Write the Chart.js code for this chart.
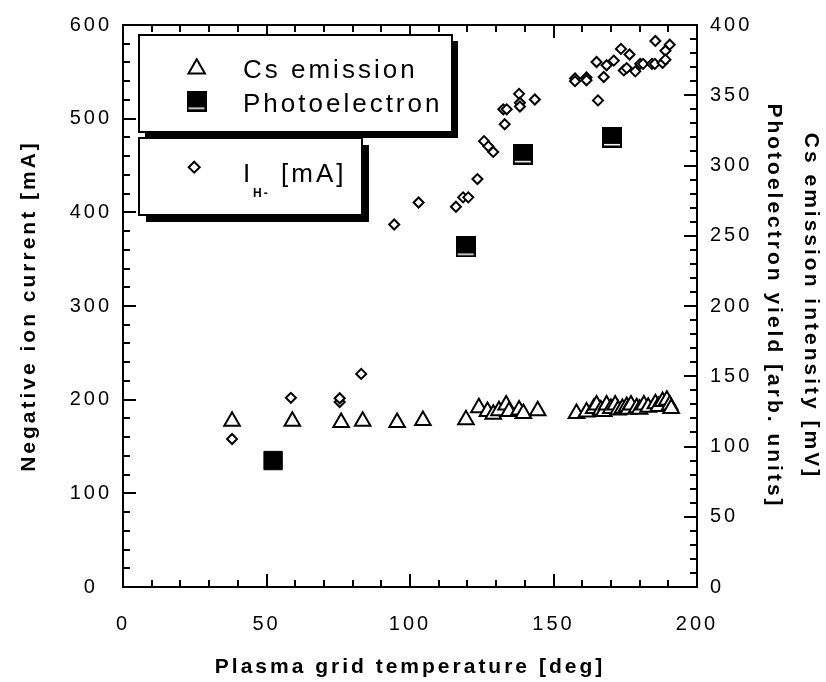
<!DOCTYPE html>
<html>
<head>
<meta charset="utf-8">
<title>Negative ion current vs plasma grid temperature</title>
<script src="https://cdn.jsdelivr.net/npm/chart.js@4.4.1/dist/chart.umd.min.js"></script>
<style>
  html, body { margin: 0; padding: 0; background: #fff; }
  canvas { display: block; }
</style>
</head>
<body>
<canvas id="chart" width="826" height="682"></canvas>
<script>
// Values

// Cs emission intensity [mV] (right axis)
const csTemp = [38, 59, 76, 83.5, 95.5, 104.5,
  119.5, 124, 127, 129, 131, 133.5, 134.5, 138, 139.5, 144.5,
  158, 161.5, 164, 165, 166.5, 167.5, 168.5, 170, 171.5, 172.5, 174, 175.5, 176,
  177, 179, 180, 181.5, 183, 185.5, 186.5, 188, 189.5, 190.5, 191];
const csIntensity = [118, 118, 117, 118, 117, 118.5,
  119, 127.5, 125, 123, 125.5, 129.5, 125, 126, 123.5, 125.5,
  123.5, 124.5, 127, 129.5, 126, 125, 129.5, 127, 129.5, 126, 127, 128.5, 126.5,
  129.5, 127.5, 126.5, 129.5, 128, 130.5, 128.5, 132, 133, 129.5, 127];

// Photoelectron yield [arb. units] (right axis)
const photoTemp = [52.3, 119.4, 139.3, 170.4];
const photoYield = [90, 242, 308, 320];

// I_H- [mA] (left axis)
const ihTemp = [38, 58.5, 75.5, 75.5, 83, 94.5, 103, 116, 118.5, 120.3,
  123.5, 125.8, 127.3, 129, 133, 132.5, 133.7, 138, 138.3, 138.3, 143.5,
  157.5, 157.5, 161.5, 161.5, 165.5, 167.5, 165, 168.5, 171, 173.5, 176.5,
  174.5, 175.5, 178.5, 180.2, 181.2, 184.3, 185.3, 185.5, 188, 189, 190.5, 189];
const ihCurrent = [158, 202, 197.5, 201.5, 227.5, 387, 410.5, 406, 416, 416,
  435.5, 476, 470.5, 464.5, 494, 510, 510, 526.5, 517, 513, 520.5,
  543, 540, 544, 541, 519.5, 544.5, 560.5, 557, 562, 574.5, 568.5,
  551.5, 554, 550.5, 558.5, 558.5, 558.5, 558.5, 583, 559.5, 572.5, 579, 563];

// Tick labels
const tempTicks = [0, 50, 100, 150, 200];
const currentTicks = [0, 100, 200, 300, 400, 500, 600];
const intensityTicks = [0, 50, 100, 150, 200, 250, 300, 350, 400];

// Plot frame position in the picture
const AREA = { left: 123, top: 20, right: 697, bottom: 587 };
const W = 826, H = 682;

const FAMILY = '"Liberation Sans", Arial, sans-serif';
const tickFont = { family: FAMILY, size: 20, lineHeight: 1.2 };
const titleFont = { family: FAMILY, size: 21, weight: 'bold', lineHeight: 1.2 };

const toXY = (xs, ys) => xs.map((x, i) => ({ x: x, y: ys[i] }));

// black square with a thin white line near its bottom
const photoMark = document.createElement('canvas');
photoMark.width = 20;
photoMark.height = 21;
const pm = photoMark.getContext('2d');
pm.fillStyle = '#000';
pm.fillRect(0, 0, 20, 21);
pm.fillStyle = '#fff';
pm.fillRect(2, 17, 16, 1.5);

function triangle(ctx, x, y, r) {
  const s = Math.sin(2 * Math.PI / 3) * r;
  ctx.beginPath();
  ctx.moveTo(x, y - r);
  ctx.lineTo(x + s, y + r / 2);
  ctx.lineTo(x - s, y + r / 2);
  ctx.closePath();
  ctx.fillStyle = '#fff';
  ctx.fill();
  ctx.stroke();
}

function diamond(ctx, x, y, r) {
  ctx.beginPath();
  ctx.moveTo(x - r, y);
  ctx.lineTo(x, y - r);
  ctx.lineTo(x + r, y);
  ctx.lineTo(x, y + r);
  ctx.closePath();
  ctx.fillStyle = '#fff';
  ctx.fill();
  ctx.stroke();
}

function box(ctx, x, y, w, h, sh) {
  ctx.fillStyle = '#000';
  ctx.fillRect(x + sh, y + sh, w, h);
  ctx.fillStyle = '#fff';
  ctx.fillRect(x, y, w, h);
  ctx.strokeRect(x, y, w, h);
}

const framePlugin = {
  id: 'frame',
  beforeUpdate(chart) { chart.ctx.letterSpacing = '3px'; },
  beforeDraw(chart) { chart.ctx.letterSpacing = '3px'; },
  afterDatasetsDraw(chart) {
    const { ctx, chartArea: a, scales } = chart;
    ctx.save();
    ctx.strokeStyle = '#000';
    ctx.lineWidth = 2;
    ctx.beginPath();
    // inward ticks, minor and major
    for (let v = 0; v <= 200; v += 10) {
      const px = Math.round(scales.x.getPixelForValue(v));
      const len = v % 50 === 0 ? 13 : 7;
      ctx.moveTo(px, a.bottom); ctx.lineTo(px, a.bottom - len);
      ctx.moveTo(px, a.top); ctx.lineTo(px, a.top + len);
    }
    for (let v = 0; v <= 600; v += 20) {
      const py = Math.round(scales.y.getPixelForValue(v));
      const len = v % 100 === 0 ? 13 : 7;
      ctx.moveTo(a.left, py); ctx.lineTo(a.left + len, py);
    }
    for (let v = 0; v <= 400; v += 10) {
      const py = Math.round(scales.y2.getPixelForValue(v));
      const len = v % 50 === 0 ? 13 : 7;
      ctx.moveTo(a.right, py); ctx.lineTo(a.right - len, py);
    }
    ctx.stroke();
    ctx.strokeRect(a.left, a.top, a.right - a.left, a.bottom - a.top);
    ctx.restore();
  },
  afterDraw(chart) {
    const ctx = chart.ctx;
    ctx.save();
    ctx.strokeStyle = '#000';
    ctx.lineWidth = 2;
    box(ctx, 139, 35, 313, 97, 6);
    box(ctx, 139, 138, 223, 77, 7);

    triangle(ctx, 196.7, 68.8, 9.5);
    ctx.drawImage(photoMark, 186.5, 90.5);
    diamond(ctx, 194.2, 167.2, 5.5);

    ctx.fillStyle = '#000';
    ctx.textBaseline = 'alphabetic';
    ctx.textAlign = 'left';
    ctx.letterSpacing = '3px';
    ctx.font = '26px ' + FAMILY;
    ctx.fillText('Cs emission', 243, 78);
    ctx.fillText('Photoelectron', 243, 111.5);
    ctx.fillText('I', 243, 181.5);
    ctx.fillText('[mA]', 281, 181.5);
    ctx.letterSpacing = '2px';
    ctx.font = 'bold 12px ' + FAMILY;
    ctx.fillText('H-', 253, 196.5);
    ctx.restore();
  }
};

new Chart(document.getElementById('chart'), {
  type: 'scatter',
  data: {
    datasets: [
      {
        label: 'Cs emission',
        data: toXY(csTemp, csIntensity),
        yAxisID: 'y2',
        pointStyle: 'triangle',
        pointRadius: 9,
        borderWidth: 2,
        borderColor: '#000',
        backgroundColor: '#fff',
        order: 1
      },
      {
        label: 'Photoelectron',
        data: toXY(photoTemp, photoYield),
        yAxisID: 'y2',
        pointStyle: c => c.dataIndex === 0 ? 'rect' : photoMark,
        pointRadius: 13,
        borderWidth: 1,
        borderColor: '#000',
        backgroundColor: '#000',
        order: 0
      },
      {
        label: 'I H- [mA]',
        data: toXY(ihTemp, ihCurrent),
        yAxisID: 'y',
        pointStyle: 'rectRot',
        pointRadius: 5,
        borderWidth: 2,
        borderColor: '#000',
        backgroundColor: '#fff',
        order: 2
      }
    ]
  },
  options: {
    responsive: false,
    animation: false,
    events: [],
    layout: { padding: { top: AREA.top, left: 0, right: 0, bottom: 0 } },
    plugins: {
      legend: { display: false },
      tooltip: { enabled: false }
    },
    scales: {
      x: {
        type: 'linear',
        min: 0, max: 200,
        afterBuildTicks: s => { s.ticks = tempTicks.map(v => ({ value: v })); },
        afterFit: s => { s.height = H - AREA.bottom; },
        grid: { display: false, drawTicks: false },
        border: { display: false },
        ticks: { padding: 25, font: tickFont, color: '#000', maxRotation: 0, autoSkip: false },
        title: {
          display: true, text: 'Plasma grid temperature [deg]',
          font: titleFont, color: '#000', padding: { top: 0, bottom: 2 }
        }
      },
      y: {
        type: 'linear',
        position: 'left',
        min: 0, max: 600,
        afterBuildTicks: s => { s.ticks = currentTicks.map(v => ({ value: v })); },
        afterFit: s => { s.width = AREA.left; },
        grid: { display: false, drawTicks: false },
        border: { display: false },
        ticks: { padding: 11, crossAlign: 'center', font: tickFont, color: '#000', autoSkip: false },
        title: {
          display: true, text: 'Negative ion current [mA]',
          font: titleFont, color: '#000', padding: { top: 17, bottom: 0 }
        }
      },
      y2: {
        type: 'linear',
        position: 'right',
        min: 0, max: 400,
        afterBuildTicks: s => { s.ticks = intensityTicks.map(v => ({ value: v })); },
        afterFit: s => { s.width = W - AREA.right; },
        grid: { display: false, drawTicks: false },
        border: { display: false },
        ticks: { padding: 13, font: tickFont, color: '#000', autoSkip: false },
        title: {
          display: true,
          text: ['Cs emission intensity [mV]', 'Photoelectron yield [arb. units]'],
          font: { family: FAMILY, size: 21, weight: 'bold', lineHeight: 1.76 },
          color: '#000', padding: { top: -3.5, bottom: 0 }
        }
      }
    }
  },
  plugins: [framePlugin]
});
</script>
</body>
</html>
